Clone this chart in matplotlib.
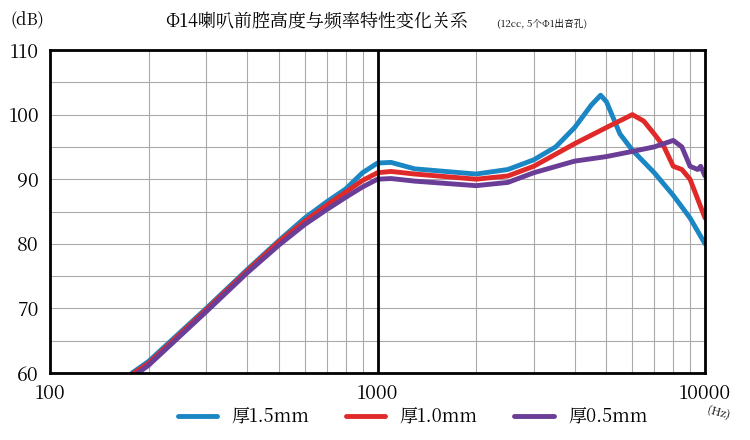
import matplotlib
matplotlib.use("Agg")
import matplotlib.pyplot as plt
from matplotlib import font_manager
import numpy as np

cjk = [f.name for f in font_manager.fontManager.ttflist if "CJK" in f.name]
pref = [n for n in cjk if n.endswith("SC")] or cjk
plt.rcParams["font.family"] = ["DejaVu Sans"] + pref[:1] if False else (pref[:1] + ["DejaVu Sans"])

blue_f = [178,200,300,400,500,600,700,800,900,1000,1100,1300,2000,2500,3000,3500,4000,4500,4800,5000,5500,6000,7000,8000,9000,10000]
blue_db = [60,61.8,70,76,80.5,84,86.5,88.5,91,92.5,92.6,91.6,90.8,91.5,93,95,98,101.5,103,102,97,94.5,91,87.5,84,80]
red_f = [178,200,300,400,500,600,700,800,900,1000,1100,1300,2000,2500,3000,4000,5000,6000,6500,7000,7500,8000,8500,9000,10000]
red_db = [59.8,61.5,69.8,75.8,80.3,83.5,86,88,89.8,91,91.2,90.8,90,90.5,92,95.5,98,100,99,97,95,92,91.5,90,84]
pur_f = [180,200,300,400,500,600,700,800,900,1000,1100,1300,2000,2500,3000,4000,5000,6000,7000,8000,8500,9000,9500,9700,10000]
pur_db = [59.5,61.2,69.5,75.5,79.8,83,85.3,87.2,88.8,90,90.1,89.7,89,89.5,91,92.8,93.5,94.3,95,96,95,92,91.5,92,90.5]
labels = ["厚1.5mm", "厚1.0mm", "厚0.5mm"]
colors = ["#1a86c4", "#e02a2a", "#6a3d97"]

fig = plt.figure(figsize=(7.5, 4.4), dpi=100)
ax = fig.add_axes([50/750, 1-373/440, 655/750, 323/440])
for f, d, lab, c in zip([blue_f, red_f, pur_f], [blue_db, red_db, pur_db], labels, colors):
    ax.plot(f, d, color=c, lw=3.5, label=lab, solid_capstyle="round")
ax.set_xscale("log")
ax.set_xlim(100, 10000)
ax.set_ylim(60, 110)
ax.set_xticks([100, 1000, 10000])
ax.set_xticklabels(["100", "1000", "10000"])
ax.set_xticks([m*10**e for e in (2, 3) for m in range(2, 10)], minor=True)
ax.xaxis.set_minor_formatter(matplotlib.ticker.NullFormatter())
ax.set_yticks(range(60, 111, 10))
ax.set_yticks(range(65, 110, 10), minor=True)
ax.grid(True, which="both", color="#aaaaaa", lw=0.8)
ax.axvline(1000, color="black", lw=2)
ax.tick_params(which="both", length=0, labelsize=14, pad=8)
for s in ax.spines.values():
    s.set_linewidth(2)
ax.set_axisbelow(True)
fig.text(10/750, 1-20/440, "(dB)", fontsize=12, va="center")
fig.text(165/750, 1-22/440, "Φ14喇叭前腔高度与频率特性变化关系", fontsize=13, va="center")
fig.text(497/750, 1-24/440, "(12cc, 5个Φ1出音孔)", fontsize=7, va="center")
fig.text(706/750, 1-413/440, "(Hz)", fontsize=8, rotation=-15, va="center")
fig.legend(loc="lower center", bbox_to_anchor=(0.55, 0.0), ncol=3, frameon=False,
           fontsize=13, handlelength=2.2, columnspacing=2, borderaxespad=0.3)
fig.savefig("out.png", dpi=100)
